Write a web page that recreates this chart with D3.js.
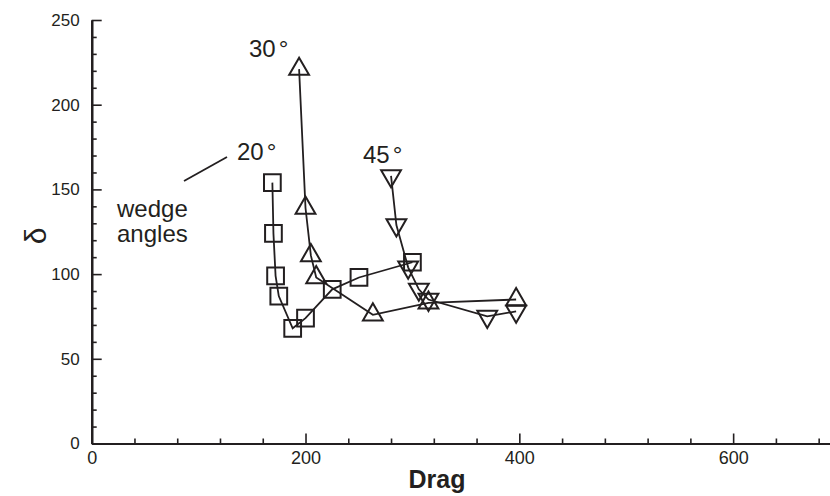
<!DOCTYPE html>
<html>
<head>
<meta charset="utf-8">
<script src="https://cdn.jsdelivr.net/npm/d3@7"></script>
<style>
  body { margin: 0; background: #fff; }
  svg { display: block; font-family: "Liberation Sans", Arial, sans-serif; }
</style>
</head>
<body>
<svg id="chart" width="830" height="496"></svg>
<script>
// wedge angle 20 deg (squares)
var sqDrag  = [169, 170, 172, 175, 188, 200, 225, 250, 300];
var sqDelta = [154, 124, 99, 87, 68, 74, 91, 98, 107];

// wedge angle 30 deg (triangles)
var triDrag  = [194, 200, 205, 210, 263, 315, 397];
var triDelta = [221, 139, 111, 98, 76, 83, 85];

// wedge angle 45 deg (inverted triangles)
var invDrag  = [280, 285, 296, 306, 315, 370, 397];
var invDelta = [158, 129, 104, 91, 85, 75, 78];

var xTicks = [0, 200, 400, 600];
var yTicks = [0, 50, 100, 150, 200, 250];

var svg = d3.select("#chart");
var ink = "#231f20";

var x = d3.scaleLinear().domain([0, 690.6]).range([91.7, 830]);
var y = d3.scaleLinear().domain([0, 250]).range([443.5, 20]);

function zip(a, b) {
  return a.map(function(d, i) { return [d, b[i]]; });
}

// axes: ticks pointing inward
var yMinor = d3.range(0, 251, 10).filter(function(d) { return d % 50 != 0; });
var xMinor = d3.range(0, 691, 40).filter(function(d) { return d % 200 != 0; });

var yAxis = svg.append("g").attr("transform", translate(x(0), 0));
yAxis.call(d3.axisLeft(y).tickValues(yTicks).tickSizeInner(-10).tickSizeOuter(0).tickPadding(12));
yAxis.append("g").call(d3.axisLeft(y).tickValues(yMinor).tickSizeInner(-5).tickSizeOuter(0).tickFormat(""));

var xAxis = svg.append("g").attr("transform", translate(0, y(0)));
xAxis.call(d3.axisBottom(x).tickValues(xTicks).tickSizeInner(-10).tickSizeOuter(0).tickPadding(8));
xAxis.append("g").call(d3.axisBottom(x).tickValues(xMinor).tickSizeInner(-5).tickSizeOuter(0).tickFormat(""));

svg.selectAll(".domain").attr("stroke", ink).attr("stroke-width", 2.2);
svg.selectAll(".tick line").attr("stroke", ink).attr("stroke-width", 1.6);
yAxis.selectAll(".tick text").attr("font-size", 17).attr("fill", ink)
  .attr("font-family", "Liberation Sans, Arial, sans-serif");
xAxis.selectAll(".tick text").attr("font-size", 18).attr("fill", ink)
  .attr("font-family", "Liberation Sans Narrow, Liberation Sans, sans-serif");

// axis titles
svg.append("text")
  .attr("transform", "translate(46,236) rotate(-90)")
  .attr("text-anchor", "middle")
  .attr("font-size", 30)
  .attr("fill", ink)
  .text("δ");

svg.append("text")
  .attr("x", 437).attr("y", 488)
  .attr("text-anchor", "middle")
  .attr("font-family", "Liberation Sans Narrow, Liberation Sans, sans-serif")
  .attr("font-weight", "bold")
  .attr("font-size", 25)
  .attr("fill", ink)
  .text("Drag");

// series
var series = [
  { pts: zip(sqDrag, sqDelta), sym: d3.symbolSquare, size: 280, rot: 0 },
  { pts: zip(triDrag, triDelta), sym: d3.symbolTriangle, size: 170, rot: 0 },
  { pts: zip(invDrag, invDelta), sym: d3.symbolTriangle, size: 170, rot: 180 }
];

var line = d3.line()
  .x(function(d) { return x(d[0]); })
  .y(function(d) { return y(d[1]); });

series.forEach(function(s) {
  svg.append("path")
    .attr("d", line(s.pts))
    .attr("fill", "none")
    .attr("stroke", ink)
    .attr("stroke-width", 1.8);

  svg.selectAll(null)
    .data(s.pts)
    .enter()
    .append("path")
    .attr("d", d3.symbol().type(s.sym).size(s.size))
    .attr("transform", function(d) { return translate(x(d[0]), y(d[1])) + " rotate(" + s.rot + ")"; })
    .attr("fill", "none")
    .attr("stroke", ink)
    .attr("stroke-width", 2);
});

// annotations
function label(txt, px, py) {
  var t = svg.append("text")
    .attr("x", px).attr("y", py)
    .attr("font-size", 24)
    .attr("fill", ink);
  t.append("tspan").text(txt);
  t.append("tspan").attr("dx", 3).text("°");
}
label("30", 249, 57);
label("20", 237, 160);
label("45", 363, 163);

svg.append("text").attr("x", 117).attr("y", 217)
  .attr("font-size", 24).attr("fill", ink).text("wedge");
svg.append("text").attr("x", 117).attr("y", 242)
  .attr("font-size", 24).attr("fill", ink).text("angles");

svg.append("line")
  .attr("x1", 184).attr("y1", 181)
  .attr("x2", 227).attr("y2", 157)
  .attr("stroke", ink)
  .attr("stroke-width", 1.8);

function translate(px, py) {
  return "translate(" + px + "," + py + ")";
}
</script>
</body>
</html>
